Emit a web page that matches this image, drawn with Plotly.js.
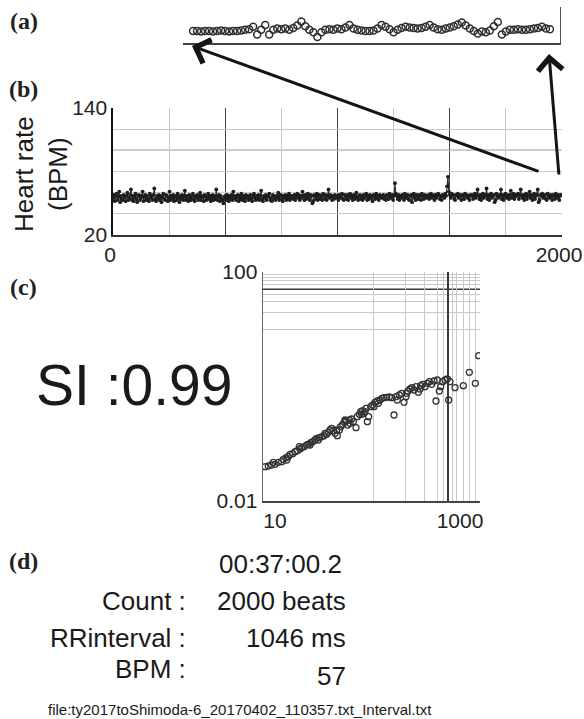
<!DOCTYPE html>
<html><head><meta charset="utf-8">
<script src="https://cdn.plot.ly/plotly-3.0.1.min.js"></script>
<style>html,body{margin:0;padding:0;background:#fff}#chart{width:584px;height:719px}</style>
</head><body><div id="chart"></div>
<script>
// ---- (b) heart rate series, one value every 4 beats (BPM) ----
const hrBeatStep = 4;
const heartRate = [
55,58,52,57,59,53,56,61,51,57, 54,53,58,56,52,57,60,53,55,58, 63,53,57,52,56,59,54,51,57,58, 53,55,57,61,52,56,58,53,57,54, 52,59,55,57,53,58,64,54,52,57,
54,58,53,57,51,56,59,54,53,58, 57,52,55,61,53,57,54,58,52,56, 57,53,59,55,51,57,54,58,53,56, 62,53,57,54,52,58,55,53,57,59, 54,52,57,55,58,53,56,60,53,57,
56,52,58,57,53,55,59,54,57,52, 55,58,53,57,54,63,53,56,58,52, 57,54,53,50,56,57,53,58,55,52, 57,54,58,53,61,55,57,53,56,58, 52,57,54,59,53,57,55,52,58,55,
57,53,55,58,54,52,57,59,55,53, 57,54,58,53,57,62,54,52,57,55, 58,53,56,57,59,53,55,52,58,57, 54,53,57,55,60,53,57,58,54,52, 57,55,58,53,57,54,59,53,57,55,
57,54,58,53,57,59,55,58,53,57, 55,61,57,53,58,54,57,59,55,53, 58,57,50,52,58,57,54,59,53,57, 58,54,57,53,59,57,54,58,53,57, 63,55,58,57,53,57,54,58,55,57,
57,53,58,55,57,59,54,53,58,57, 54,58,53,57,59,55,57,53,58,54, 57,60,55,53,57,58,54,57,53,58, 55,57,59,53,57,54,58,57,55,52, 58,57,54,59,57,55,53,58,57,55,
57,58,54,57,53,58,57,54,59,57, 55,58,53,57,69,59,57,54,58,53, 57,55,58,57,53,59,55,57,58,54, 53,57,58,51,57,59,55,53,58,57, 54,58,57,53,59,57,54,58,57,55,
57,58,54,57,59,55,58,57,53,58, 55,57,59,58,54,57,53,58,57,55, 59,57,66,75,61,58,55,59,57,58, 54,53,58,57,59,55,58,57,53,58, 57,54,59,57,58,55,57,53,58,57,
58,54,57,59,55,58,63,57,54,58, 53,57,59,55,58,57,64,54,58,53, 57,59,55,57,58,51,53,59,57,55, 58,57,63,54,58,53,57,59,55,58, 57,54,58,62,55,57,59,54,58,57,
57,59,54,58,63,57,55,58,53,57, 59,54,58,57,61,55,58,53,57,59, 54,57,58,63,51,53,58,57,59,55, 57,58,54,53,59,57,55,58,57,53, 58,57,54,59,57,55,58,53,57,58
];
const bXTickVals = [0, 500, 1000, 1500, 2000];
const bXTickText = ['0', '', '', '', '2000'];
const bYTickVals = [20, 40, 60, 80, 100, 120, 140];
const bYTickText = ['20', '', '', '', '', '', '140'];

// ---- (a) zoom of the last 90 beats (BPM) ----
const zoomStartBeat = 1911;
const zoomHeartRate = [
54,54,53.5,54,54,53.5,54,54.5,54,53.5, 54,54,54.5,55,55.5,57.5,51,55,59,51,
55,56,55.5,56,55,56.5,58.5,62,58,55, 53,49,53,55,55.5,55,56,55.5,57,59,
56,55,54.5,54,54,54.5,56,59,57.5,55.5, 53,55,56.5,57.5,57,56.5,56,56.5,57.5,59,
57,55.5,55,56,57,58,59.5,61,58.5,56, 54,52,53.5,53,54.5,58,61.5,51,53.5,55,
55,55.5,55,55,55.5,56,56.5,57.5,56,55.5
];

// ---- (c) fluctuation vs box size (log-log) ----
const dfaBoxSize = [19.5,20.9,22.5,23.3,24.2,26.0,27.9,28.9,30.6,31.1,32.2,33.4,35.3,37.2,39.1,40.8,41.4,42.9,45.1,47.8,49.5,51.3,52.1,54.4,57.1,59.2,61.4,62.7,66.0,69.4,70.9,73.5,76.1,78.9,81.8,84.8,87.9,91.1,92.4,96.5,99.3,103.6,107.4,109.0,111.4,115.4,119.6,121.4,125.8,130.4,138.1,142.1,148.4,152.7,156.0,159.4,164.0,167.6,171.3,176.2,181.3,189.3,197.7,203.4,207.9,218.6,223.3,231.5,241.6,252.2,267.2,282.9,297.5,312.8,326.6,336.2,350.9,369.0,388.0,404.9,411.0,422.7,441.3,460.7,481.0,502.1,528.0,547.3,555.2,579.6,609.5,640.9,669.1,703.5,739.8,772.3,794.9,829.9,853.9,891.5,937.3,985.6,1014,1044,1163,1391,1582,1801,1934];
const dfaFluct = [0.0398,0.0409,0.0425,0.0474,0.0437,0.0474,0.0486,0.0534,0.0571,0.0520,0.0595,0.0653,0.0671,0.0727,0.0757,0.0889,0.0810,0.0854,0.0889,0.0951,0.0977,0.0951,0.1044,0.1087,0.1163,0.1243,0.1163,0.1277,0.1329,0.1384,0.1520,0.1460,0.1582,0.1738,0.1859,0.1692,0.1520,0.1738,0.1384,0.1738,0.1988,0.2184,0.2366,0.2599,0.2496,0.2126,0.2599,0.2273,0.2706,0.2430,0.1909,0.2972,0.3264,0.3634,0.3264,0.3784,0.3398,0.3634,0.4155,0.2430,0.2972,0.4443,0.4752,0.4443,0.5289,0.5580,0.5082,0.5810,0.6214,0.6382,0.6466,0.6554,0.6382,0.3178,0.6642,0.5810,0.7104,0.7596,0.5289,0.6642,0.7596,0.8346,0.9043,0.9541,0.8687,0.9933,0.7910,0.9043,1.034,1.091,0.9933,1.136,1.214,1.091,1.248,0.5580,1.299,0.8346,0.9933,1.214,1.299,1.352,0.5810,1.214,0.9541,1.034,1.768,1.136,3.456];
const cXTickVals = [18.66, 1000];
const cXTickText = ['10', '1000'];
const cXGrid = [200, 400, 600, 800, 900, 1100, 1200, 1400, 1600, 1800];
const cYTickVals = [0.01, 100];
const cYTickText = ['0.01', '100'];
const cYGrid = [10, 20, 30, 40, 60, 70, 80, 90];

// ---- (d) summary text ----
const siText = 'SI :0.99';
const elapsed = '00:37:00.2';
const infoLabels = ['Count :', 'RRinterval :', 'BPM :'];
const infoValues = ['2000 beats', '1046 ms', '57'];
const fileName = 'file:ty2017toShimoda-6_20170402_110357.txt_Interval.txt';

const W = 584, H = 719;
const px = v => v / W, py = v => 1 - v / H;
const SANS = 'Liberation Sans, Arial, Helvetica, sans-serif';
const SERIF = 'Liberation Serif, Times New Roman, serif';
const LIGHT = '#c9c9c9', DARK = '#3a3a3a';

const hrBeats = heartRate.map((v, i) => i * hrBeatStep);
const zoomBeats = zoomHeartRate.map((v, i) => zoomStartBeat + i);

const traces = [
  { x: zoomBeats, y: zoomHeartRate, xaxis: 'x', yaxis: 'y', type: 'scatter', mode: 'markers',
    marker: { symbol: 'circle-open', size: 7, color: '#2e2e2e', line: { width: 1.5 } }, hoverinfo: 'skip' },
  { x: hrBeats, y: heartRate, xaxis: 'x2', yaxis: 'y2', type: 'scatter', mode: 'lines+markers',
    line: { color: '#2a2a2a', width: 1.1 }, marker: { size: 3.8, color: '#1e1e1e' }, hoverinfo: 'skip' },
  { x: dfaBoxSize, y: dfaFluct, xaxis: 'x3', yaxis: 'y3', type: 'scatter', mode: 'markers',
    marker: { symbol: 'circle-open', size: 6, color: '#333', line: { width: 1.3 } }, hoverinfo: 'skip' }
];

const tickFont = { family: SANS, size: 21, color: '#222' };
const ann = [];
function txt(t, x, y, size, opts) {
  ann.push(Object.assign({ text: t, x: px(x), y: py(y), xref: 'paper', yref: 'paper', showarrow: false,
    xanchor: 'left', yanchor: 'middle', font: { family: SANS, size: size, color: '#1a1a1a' } }, opts || {}));
}
txt('<b>(a)</b>', 8, 21, 24, { font: { family: SERIF, size: 24, color: '#222' } });
txt('<b>(b)</b>', 7, 89, 24, { font: { family: SERIF, size: 24, color: '#222' } });
txt('<b>(c)</b>', 8, 287, 24, { font: { family: SERIF, size: 24, color: '#222' } });
txt('<b>(d)</b>', 7, 561, 24, { font: { family: SERIF, size: 24, color: '#222' } });
txt('Heart rate<br>(BPM)', 41, 174, 26, { xanchor: 'center', textangle: -90 });
txt(siText, 134, 385, 57, { xanchor: 'center' });
txt(elapsed, 344, 564, 26, { xanchor: 'right' });
const rowY = [601, 638, 669];
const valY = [601, 638, 676];
infoLabels.forEach((l, i) => txt(l, 188, rowY[i], 26, { xanchor: 'right' }));
infoValues.forEach((v, i) => txt(v, 348, valY[i], 26, { xanchor: 'right' }));
txt(fileName, 46, 709, 15);
// arrows from the zoom panel to the region of panel (b)
ann.push({ x: px(192), y: py(46), xref: 'paper', yref: 'paper', text: '', showarrow: true,
  ax: 540 - 192, ay: 172 - 46, arrowhead: 4, arrowsize: 1.6, arrowwidth: 3, arrowcolor: '#151515' });
ann.push({ x: px(549), y: py(54), xref: 'paper', yref: 'paper', text: '', showarrow: true,
  ax: 559 - 549, ay: 176 - 54, arrowhead: 4, arrowsize: 1.6, arrowwidth: 3, arrowcolor: '#151515' });

const layout = {
  width: W, height: H, margin: { l: 0, r: 0, t: 0, b: 0 },
  paper_bgcolor: '#fff', plot_bgcolor: '#fff', showlegend: false,
  font: { family: SANS, color: '#222' },
  xaxis: { domain: [px(183), px(560)], range: [1908.5, 2002.5], anchor: 'y', showgrid: false, zeroline: false,
    showline: true, linecolor: '#444', linewidth: 1.6, showticklabels: false, ticks: '' },
  yaxis: { domain: [py(43), py(7)], range: [44, 74], anchor: 'x', side: 'right', showgrid: false, zeroline: false,
    showline: true, linecolor: '#555', linewidth: 1.2, showticklabels: false, ticks: '' },
  xaxis2: { domain: [px(113), px(562)], range: [0, 2000], anchor: 'y2', tickmode: 'array',
    tickvals: bXTickVals, ticktext: bXTickText, ticklabelshift: -3, ticklabeloverflow: 'allow',
    showgrid: true, gridcolor: '#444', gridwidth: 1.3,
    minor: { tickmode: 'array', tickvals: [250, 750, 1250, 1750], showgrid: true, gridcolor: LIGHT, gridwidth: 1, ticks: '' },
    showline: true, linecolor: '#333', linewidth: 1.6, zeroline: false, ticks: '', tickfont: tickFont },
  yaxis2: { domain: [py(235), py(108)], range: [20, 140], anchor: 'x2', tickmode: 'array',
    tickvals: bYTickVals, ticktext: bYTickText, showgrid: true, gridcolor: LIGHT, gridwidth: 1,
    showline: true, linecolor: '#111', linewidth: 1.6, zeroline: false, ticks: '', tickfont: tickFont },
  xaxis3: { domain: [px(263), px(480)], type: 'log', range: [1.271, 3.299], anchor: 'y3', tickmode: 'array',
    tickvals: cXTickVals, ticktext: cXTickText, ticklabelshift: 12, ticklabeloverflow: 'allow',
    showgrid: true, gridcolor: DARK, gridwidth: 1.4,
    minor: { tickmode: 'array', tickvals: cXGrid, showgrid: true, gridcolor: LIGHT, gridwidth: 1, ticks: '' },
    showline: true, linecolor: '#444', linewidth: 1.8, zeroline: false, ticks: '', tickfont: tickFont },
  yaxis3: { domain: [py(501), py(272)], type: 'log', range: [-2, 2], anchor: 'x3', tickmode: 'array',
    tickvals: cYTickVals, ticktext: cYTickText, showgrid: true, gridcolor: LIGHT, gridwidth: 1,
    minor: { tickmode: 'array', tickvals: cYGrid, showgrid: true, gridcolor: LIGHT, gridwidth: 1, ticks: '' },
    showline: true, linecolor: '#666', linewidth: 1.4, zeroline: false, ticks: '', tickfont: tickFont },
  shapes: [
    { type: 'line', xref: 'x2 domain', x0: 0, x1: 1, yref: 'y2', y0: 100, y1: 100, line: { color: '#444', width: 1.4 }, layer: 'below' },
    { type: 'line', xref: 'x3 domain', x0: 0, x1: 1, yref: 'y3', y0: 50, y1: 50, line: { color: DARK, width: 1.4 }, layer: 'below' }
  ],
  annotations: ann
};

Plotly.newPlot('chart', traces, layout, { staticPlot: true, displayModeBar: false });
</script>
</body></html>
